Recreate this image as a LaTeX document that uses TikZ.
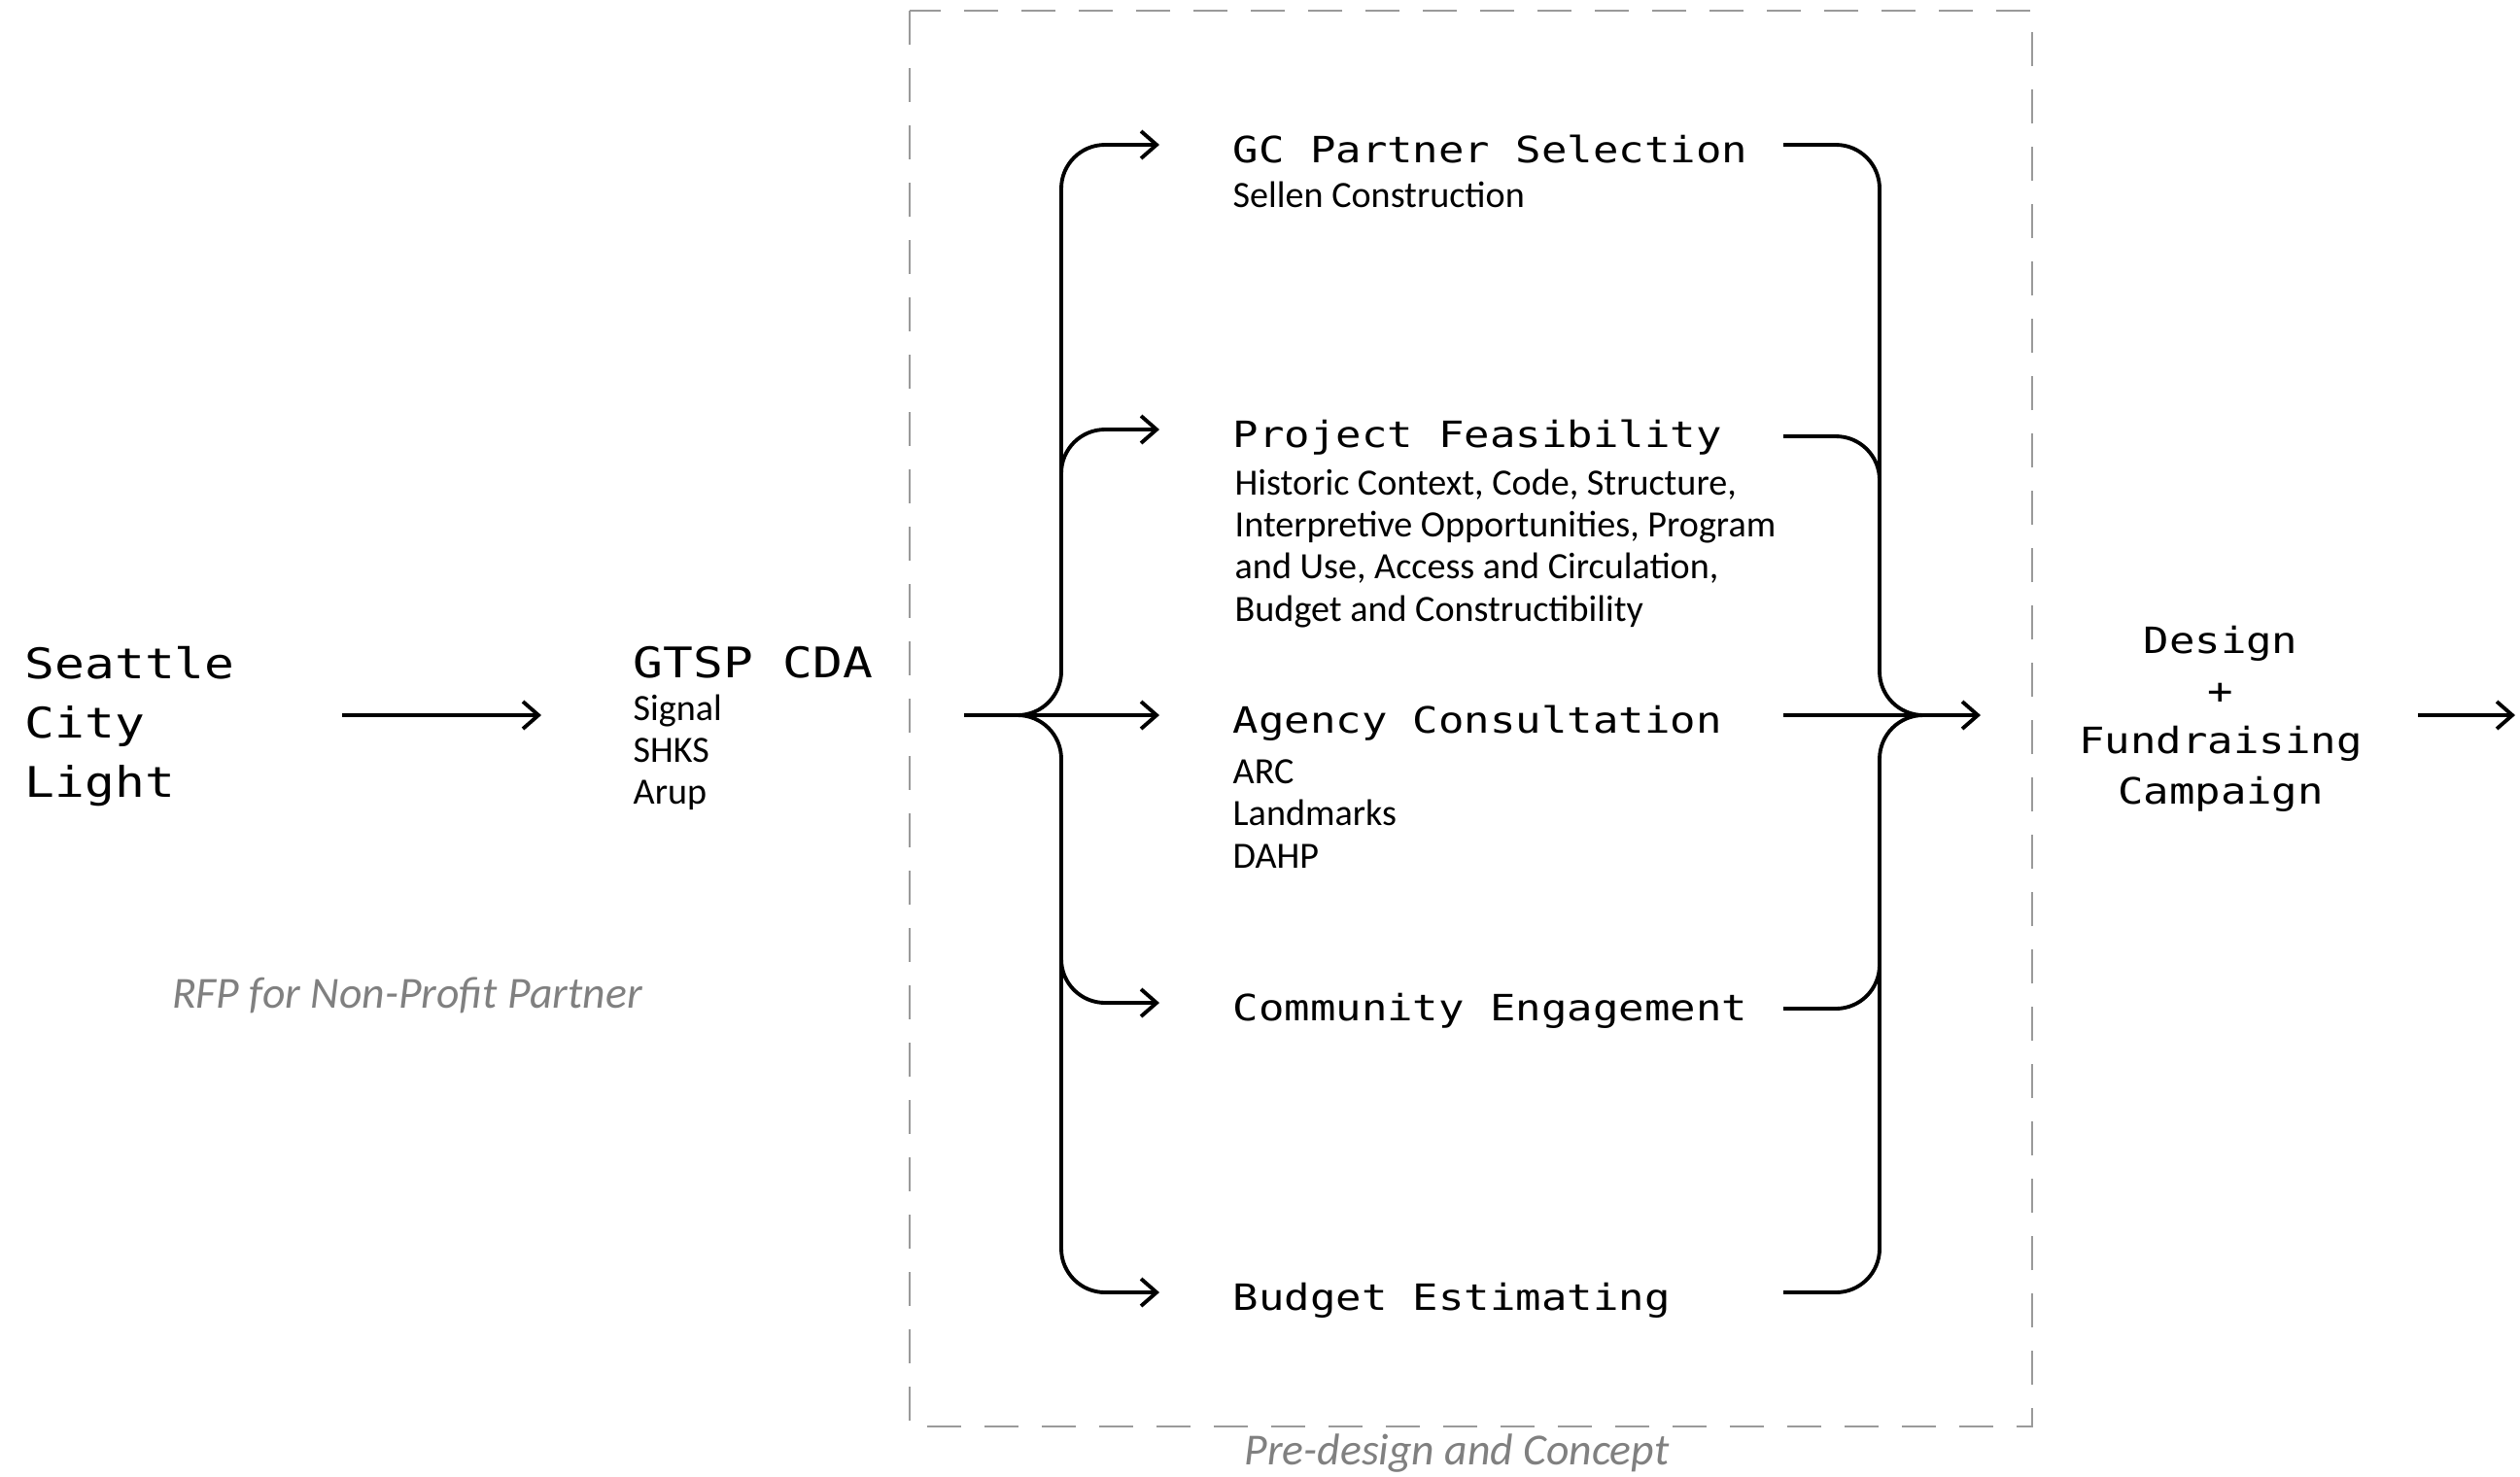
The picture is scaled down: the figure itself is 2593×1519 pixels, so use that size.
\documentclass[tikz,border=0pt]{standalone}
\usepackage{fontspec}
\usetikzlibrary{arrows.meta,positioning}

\newfontfamily\monofont[FakeStretch=1.18]{DejaVu Sans Mono}
\newfontfamily\detailfont{Carlito}
\definecolor{phasegray}{HTML}{808080}
\definecolor{boxgray}{HTML}{9A9A9A}

\tikzset{
  bigmono/.style={font=\monofont\fontsize{12.35}{17.3}\selectfont, inner sep=0pt, align=left, anchor=base west},
  title/.style={font=\monofont\fontsize{10.6}{14.65}\selectfont, inner sep=0pt, anchor=west, text height=10.5pt, text depth=0pt},
  detail/.style={font=\detailfont\fontsize{10.85}{12.3}\selectfont, inner sep=0pt, align=left, anchor=base west},
  phase/.style={font=\detailfont\itshape\fontsize{13}{15}\selectfont, text=phasegray, inner sep=0pt, anchor=base},
  arr/.style={-{Straight Barb[length=1.6mm,width=2.8mm]}},
  flow/.style={line width=1.1pt, rounded corners=4.5mm},
}

\begin{document}
\begin{tikzpicture}[x=0.1mm, y=-0.1mm]
		\useasboundingbox (0,0) rectangle (2593,1519);

		% phase frame
		\draw [boxgray, line width=0.5pt, dash pattern=on 3.5mm off 2.4mm] (936,11) rectangle (2091,1468);
		\node [phase] (pre) at (1499,1507) {Pre-design and Concept};

		% client and team (multi-line nodes sit on their last line)
		\node [bigmono] (scl) at (25,820) {Seattle\\City\\Light};
		\node [bigmono] (gtsp) at (651,697) {GTSP CDA};
		\node [detail, font=\detailfont\fontsize{10.85}{12.1}\selectfont] (team) at (651,827) {Signal\\SHKS\\Arup};
		\node [phase] (rfp) at (419,1037) {RFP for Non-Profit Partner};

		\coordinate (a1) at (352,736);
		\coordinate (a2) at (557,736);
		\draw [flow, arr] (a1) -- (a2);

		% work streams
		\node [title] (gc) at (1268,149) {GC Partner Selection};
		\node [detail] (gcsub) at (1268,213) {Sellen Construction};
		\node [title] (proj) at (1268,442) {Project Feasibility};
		\node [detail] (projsub) at (1270,639) {Historic Context, Code, Structure,\\Interpretive Opportunities, Program\\and Use, Access and Circulation,\\Budget and Constructibility};
		\node [title] (ag) at (1268,736) {Agency Consultation};
		\node [detail] (agsub) at (1268,893) {ARC\\Landmarks\\DAHP};
		\node [title] (com) at (1268,1032) {Community Engagement};
		\node [title] (bud) at (1268,1330) {Budget Estimating};

		% left brace
		\coordinate (in) at (992,736);
		\coordinate (jl) at (1047,736);
		\coordinate (vl) at (1092,736);
		\draw [flow, arr, shorten >=7.5mm] (in) -- (ag.west);
		\draw [flow, arr, shorten >=7.5mm] (jl) -| (vl |- gc.west) -- (gc.west);
		\draw [flow, arr, shorten >=7.5mm] (jl) -| (vl |- bud.west) -- (bud.west);
		\draw [flow, arr, shorten >=7.5mm] (1092,600) |- (proj.west);
		\draw [flow, arr, shorten >=7.5mm] (1092,900) |- (com.west);

		% right brace
		\coordinate (rs) at (1835,736);
		\coordinate (vr) at (1934,736);
		\coordinate (jr) at (1977,736);
		\coordinate (out) at (2038,736);
		\draw [flow, arr] (rs |- ag.west) -- (out);
		\draw [flow] (rs |- gc.west) -| (vr) -- (jr);
		\draw [flow] (rs |- bud.west) -| (vr) -- (jr);
		\draw [flow] (1835,449) -| (1934,600);
		\draw [flow] (1835,1038) -| (1934,900);

		% next phase
		\node [font=\monofont\fontsize{10.6}{14.65}\selectfont, inner sep=0pt, align=center, anchor=base] (dfc) at (2285,827) {Design\\+\\Fundraising\\Campaign};
		\coordinate (b1) at (2488,736);
		\coordinate (b2) at (2588,736);
		\draw [flow, arr] (b1) -- (b2);
	\end{tikzpicture}
\end{document}
